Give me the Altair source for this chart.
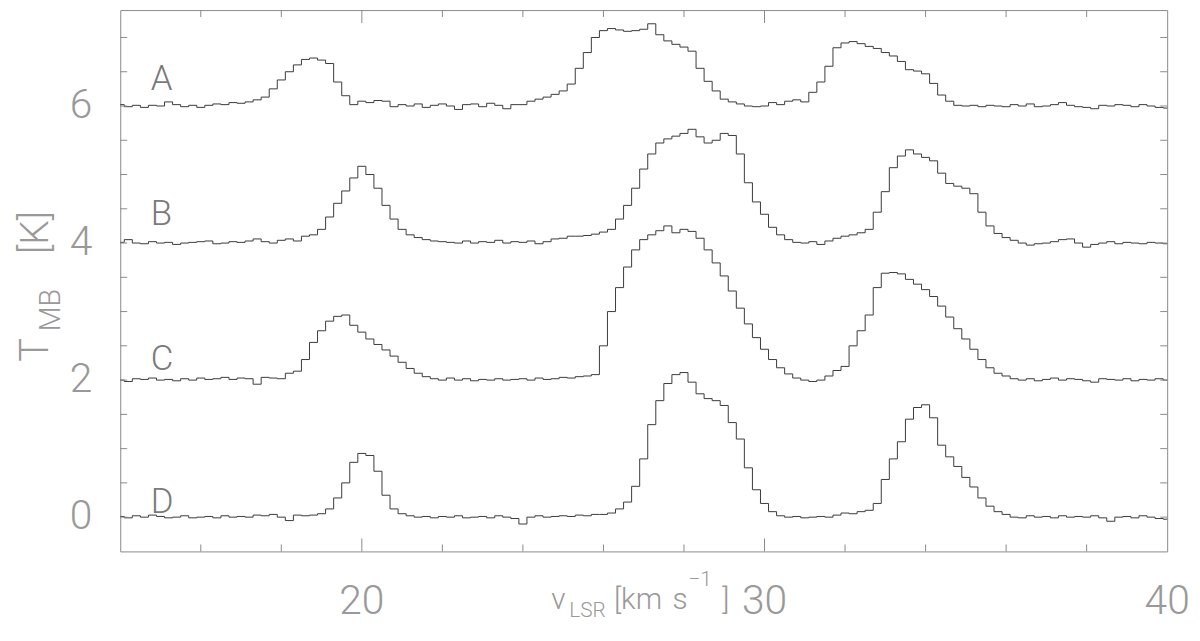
import altair as alt
import pandas as pd

# velocity channels (km/s)
velocity = [round(14.0 + 0.2 * i, 1) for i in range(131)]

# spectra (T_MB in K, before vertical offset)
spec_A = [0.02, -0.01, 0.01, -0.02, 0.01, 0.0, 0.06, 0.02, -0.01, 0.01,
          -0.02, 0.01, 0.03, 0.02, 0.05, 0.04, 0.06, 0.09, 0.13, 0.25,
          0.38, 0.5, 0.6, 0.68, 0.7, 0.67, 0.62, 0.35, 0.15, 0.02,
          0.07, 0.05, 0.08, 0.07, -0.01, 0.02, 0.0, 0.03, -0.02, 0.01,
          0.03, 0.0, -0.05, 0.02, 0.03, -0.01, 0.04, 0.01, -0.04, 0.02,
          0.02, 0.07, 0.1, 0.13, 0.17, 0.22, 0.32, 0.55, 0.78, 1.0,
          1.1, 1.13, 1.11, 1.09, 1.1, 1.12, 1.2, 1.04, 0.95, 0.9,
          0.86, 0.8, 0.55, 0.36, 0.22, 0.1, 0.06, 0.03, 0.0, -0.01,
          0.0, 0.05, 0.02, 0.07, 0.09, 0.06, 0.2, 0.35, 0.58, 0.85,
          0.92, 0.94, 0.91, 0.87, 0.84, 0.78, 0.73, 0.65, 0.53, 0.51,
          0.47, 0.33, 0.16, 0.07, 0.01, 0.0, 0.01, -0.01, 0.01, 0.0,
          -0.01, 0.02, 0.0, 0.03, -0.01, 0.0, 0.02, 0.05, 0.01, -0.01,
          -0.02, -0.04, 0.01, 0.0, 0.02, 0.01, -0.01, 0.02, 0.0, -0.02,
          -0.03]
spec_B = [0.01, 0.05, 0.0, -0.01, 0.02, 0.0, 0.01, -0.02, 0.0, 0.01,
          0.02, 0.03, -0.01, 0.0, 0.02, 0.01, 0.03, 0.06, 0.02, 0.0,
          0.04, 0.06, 0.03, 0.1, 0.12, 0.2, 0.38, 0.58, 0.76, 0.95,
          1.12, 1.0, 0.8, 0.55, 0.35, 0.2, 0.12, 0.08, 0.05, 0.03,
          0.02, 0.01, 0.0, 0.03, 0.0, 0.02, 0.01, 0.04, 0.0, 0.02,
          0.01, 0.03, -0.01, 0.02, 0.06, 0.07, 0.1, 0.1, 0.11, 0.13,
          0.16, 0.2, 0.35, 0.55, 0.8, 1.08, 1.3, 1.46, 1.52, 1.56,
          1.6, 1.66, 1.55, 1.46, 1.5, 1.6, 1.57, 1.3, 0.88, 0.6,
          0.42, 0.23, 0.12, 0.05, 0.01, 0.0, 0.02, -0.02, 0.03, 0.07,
          0.1, 0.12, 0.15, 0.2, 0.45, 0.75, 1.1, 1.27, 1.36, 1.3,
          1.25, 1.2, 1.02, 0.87, 0.83, 0.8, 0.72, 0.45, 0.25, 0.14,
          0.08, 0.04, 0.0, -0.03, -0.01, 0.0, 0.02, 0.05, 0.06, 0.0,
          -0.06, -0.02, 0.0, 0.02, -0.01, 0.01, 0.0, -0.01, 0.01, 0.0,
          -0.01]
spec_C = [0.0, -0.02, 0.02, 0.01, 0.03, 0.0, 0.01, -0.01, 0.02, 0.0,
          0.03, 0.01, 0.02, 0.04, 0.01, 0.03, 0.02, -0.06, 0.04, 0.03,
          0.02, 0.1, 0.13, 0.3, 0.55, 0.72, 0.86, 0.93, 0.95, 0.8,
          0.7, 0.6, 0.52, 0.44, 0.35, 0.26, 0.17, 0.1, 0.05, 0.02,
          0.0, 0.03, 0.0, 0.02, -0.01, 0.01, 0.0, 0.02, 0.0, 0.01,
          0.02, 0.0, 0.03, 0.01, 0.02, 0.04, 0.03, 0.05, 0.06, 0.08,
          0.5, 1.0, 1.35, 1.65, 1.9, 2.05, 2.12, 2.18, 2.25, 2.15,
          2.2, 2.17, 2.07, 1.9, 1.71, 1.52, 1.3, 1.05, 0.82, 0.62,
          0.45, 0.3, 0.18, 0.09, 0.03, 0.0, -0.02, 0.0, 0.06, 0.14,
          0.2, 0.5, 0.72, 0.95, 1.35, 1.56, 1.57, 1.55, 1.47, 1.4,
          1.32, 1.22, 1.08, 0.92, 0.75, 0.6, 0.45, 0.3, 0.18, 0.1,
          0.06, 0.02, 0.0, 0.02, -0.01, 0.01, 0.03, 0.0, 0.02, 0.01,
          -0.01, -0.03, 0.02, 0.01, 0.0, 0.02, -0.01, 0.01, 0.0, 0.02,
          0.0]
spec_D = [0.01, -0.01, 0.02, 0.0, 0.03, 0.01, -0.01, 0.0, 0.02, -0.01,
          0.0, 0.01, -0.01, 0.02, 0.0, 0.01, 0.0, 0.03, 0.02, 0.04,
          0.0, -0.05, 0.03, 0.02, 0.03, 0.05, 0.12, 0.28, 0.5, 0.8,
          0.93, 0.9, 0.67, 0.32, 0.12, 0.05, 0.02, 0.0, 0.01, -0.01,
          0.01, 0.0, 0.02, -0.01, 0.0, 0.01, -0.01, 0.02, 0.0, -0.02,
          -0.1, 0.0, 0.02, 0.0, 0.01, 0.02, 0.01, 0.03, 0.02, 0.04,
          0.04, 0.06, 0.12, 0.22, 0.45, 0.85, 1.35, 1.7, 1.95, 2.08,
          2.11, 1.97, 1.8, 1.73, 1.7, 1.63, 1.38, 1.14, 0.72, 0.4,
          0.2, 0.08, 0.02, 0.0, 0.01, -0.01, 0.0, 0.01, 0.0, 0.03,
          0.06, 0.05, 0.08, 0.1, 0.2, 0.55, 0.85, 1.1, 1.43, 1.6,
          1.64, 1.45, 1.05, 0.88, 0.74, 0.58, 0.44, 0.28, 0.16, 0.08,
          0.04, 0.0, -0.01, 0.02, 0.0, 0.01, -0.01, 0.02, 0.0, 0.01,
          0.0, 0.02, -0.01, -0.06, 0.0, 0.01, -0.01, 0.02, 0.0, -0.02,
          -0.03]

series_names = ["A", "B", "C", "D"]
series_offsets = [6, 4, 2, 0]
label_v = [14.76, 14.76, 14.76, 14.76]
label_T = [6.23, 4.26, 2.15, 0.06]

x_label_values = [20, 30, 40]
y_label_values = [0, 2, 4, 6]
x_minor_ticks = [16, 18, 22, 24, 26, 28, 32, 34, 36, 38]
x_major_ticks = [20, 30]
y_ticks = [0, 0.5, 1, 1.5, 2, 2.5, 3, 3.5, 4, 4.5, 5, 5.5, 6, 6.5, 7]

W, H = 1054, 545
FONT = "Roboto"
FW = 300
GRAY = "#999999"
LINE = "#3a3a3a"
FRAME = "#8a8a8a"

rows = []
for name, off, spec in zip(series_names, series_offsets, [spec_A, spec_B, spec_C, spec_D]):
    for v, t in zip(velocity, spec):
        rows.append({"v": v, "T": t + off, "series": name})
df = pd.DataFrame(rows)

xscale = alt.Scale(domain=[14, 40], nice=False, zero=False)
yscale = alt.Scale(domain=[-0.5, 7.4], nice=False, zero=False)

lines = alt.Chart(df).mark_line(interpolate="step", color=LINE, strokeWidth=1).encode(
    x=alt.X("v:Q", scale=xscale, axis=None),
    y=alt.Y("T:Q", scale=yscale, axis=None),
    detail="series:N",
)

lab_df = pd.DataFrame({"v": label_v, "T": label_T, "name": series_names})
labels = alt.Chart(lab_df).mark_text(
    align="left", baseline="alphabetic", font=FONT, fontWeight=FW, fontSize=35, color="#7a7a7a"
).encode(
    x=alt.X("v:Q", scale=xscale, axis=None),
    y=alt.Y("T:Q", scale=yscale, axis=None),
    text="name:N",
)

# tick labels, drawn from the tick-label lists through the scales
xlab = alt.Chart(pd.DataFrame({"v": x_label_values})).mark_text(
    align="center", baseline="alphabetic", font=FONT, fontWeight=FW, fontSize=41, color=GRAY
).encode(x=alt.X("v:Q", scale=xscale, axis=None), y=alt.value(608), text=alt.Text("v:Q", format="d"))

ylab = alt.Chart(pd.DataFrame({"T": y_label_values})).mark_text(
    align="right", baseline="middle", font=FONT, fontWeight=FW, fontSize=41, color=GRAY
).encode(y=alt.Y("T:Q", scale=yscale, axis=None), x=alt.value(-28), text=alt.Text("T:Q", format="d"))

def xticks(vals, length, top):
    d = pd.DataFrame({"v": vals})
    y0, y1 = (0, length) if top else (H, H - length)
    return alt.Chart(d).mark_rule(color=FRAME, strokeWidth=1).encode(
        x=alt.X("v:Q", scale=xscale, axis=None),
        y=alt.value(y0), y2=alt.value(y1))

def yticks(vals, length, right):
    d = pd.DataFrame({"T": vals})
    x0, x1 = (W, W - length) if right else (0, length)
    return alt.Chart(d).mark_rule(color=FRAME, strokeWidth=1).encode(
        y=alt.Y("T:Q", scale=yscale, axis=None),
        x=alt.value(x0), x2=alt.value(x1))

tick_layers = [
    xticks(x_minor_ticks, 7, False), xticks(x_minor_ticks, 7, True),
    xticks(x_major_ticks, 13, False), xticks(x_major_ticks, 13, True),
    yticks(y_ticks, 7, False), yticks(y_ticks, 7, True),
]

def txt(s, px, py, size, angle=0, align="left"):
    d = pd.DataFrame({"s": [s]})
    kw = dict(align=align, baseline="alphabetic", font=FONT, fontWeight=FW,
              fontSize=size, color=GRAY)
    if angle:
        kw["angle"] = angle
    return alt.Chart(d).mark_text(**kw).encode(
        text="s:N", x=alt.value(px), y=alt.value(py))

title_layers = [
    # y title: T_MB [K]
    txt("T", -73, 342, 40, 270, "center"),
    txt("MB", -61, 302, 29, 270, "center"),
    txt("[K]", -73, 224, 39, 270, "center"),
    # x title: v_LSR [km s^-1]
    txt("v", 434, 603, 30),
    txt("LSR", 452, 611, 21),
    txt("[km", 497, 603, 30),
    txt("s", 556, 603, 30),
    txt("\u22121", 572, 580, 21),
    txt("]", 606, 603, 30),
]

chart = alt.layer(lines, labels, xlab, ylab, *tick_layers, *title_layers).properties(
    width=W, height=H,
    autosize=alt.AutoSizeParams(type="none"),
    padding={"left": 113, "top": 0, "right": 25, "bottom": 72},
).configure_view(stroke=FRAME, strokeWidth=1)

chart.save("out.html", embed_options={"renderer": "svg", "actions": False})
